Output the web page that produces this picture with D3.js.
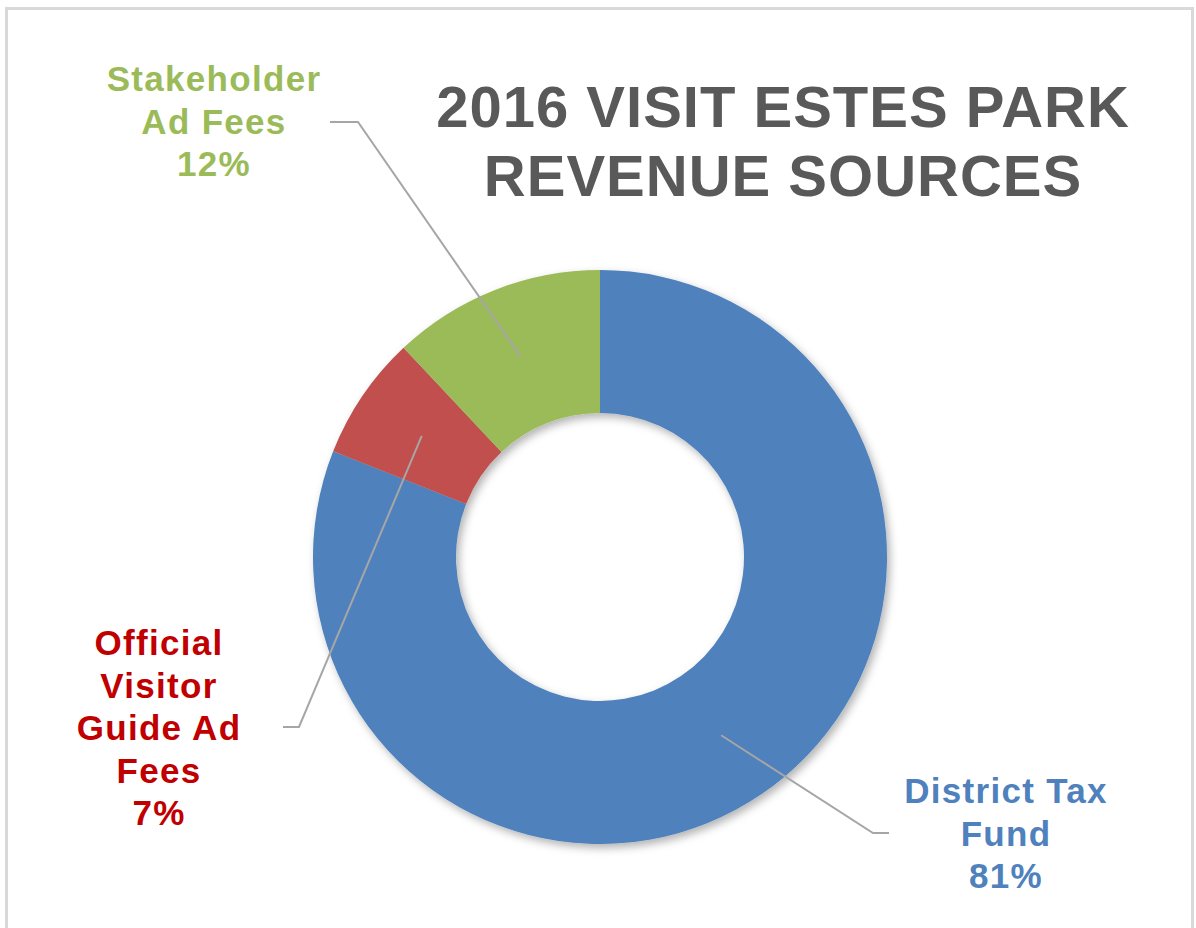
<!DOCTYPE html>
<html>
<head>
<meta charset="utf-8">
<script src="https://cdn.jsdelivr.net/npm/d3@7"></script>
<style>
  html, body { margin: 0; padding: 0; background: #ffffff; }
  svg { display: block; }
  text { font-family: "Liberation Sans", Arial, sans-serif; font-weight: bold; }
</style>
</head>
<body>
<svg id="chart" width="1196" height="928"></svg>
<script>
// ---- data ----
const categories = ["District Tax Fund", "Official Visitor Guide Ad Fees", "Stakeholder Ad Fees"];
const values = [81, 7, 12];
const labelLines = [
  ["District Tax", "Fund", "81%"],
  ["Official", "Visitor", "Guide Ad", "Fees", "7%"],
  ["Stakeholder", "Ad Fees", "12%"]
];
const titleLines = ["2016 VISIT ESTES PARK", "REVENUE SOURCES"];

// ---- styling / layout ----
const sliceColors = ["#4f81bd", "#c0504d", "#9bbb59"];
const labelColors = ["#4f81bd", "#c00000", "#9bbb59"];
const cx = 600, cy = 557, outerR = 287, innerR = 144;
// label anchor (center x, first baseline), leader elbow & end points
const labelLayout = [
  { x: 1005, y: 803, elbow: [873, 833], end: [889, 833] },
  { x: 158, y: 655, elbow: [299, 727], end: [283, 727] },
  { x: 213, y: 91, elbow: [358, 122], end: [330, 122] }
];
const lineH = 42.5;

const svg = d3.select("#chart");

// frame border
svg.append("rect")
  .attr("x", 6.5).attr("y", 8.5)
  .attr("width", 1186).attr("height", 940)
  .attr("fill", "none").attr("stroke", "#d9d9d9").attr("stroke-width", 3);

// shadow filter
const defs = svg.append("defs");
const f = defs.append("filter").attr("id", "shadow")
  .attr("x", "-20%").attr("y", "-20%").attr("width", "140%").attr("height", "140%");
f.append("feDropShadow").attr("dx", 3).attr("dy", 4).attr("stdDeviation", 4)
  .attr("flood-color", "#000").attr("flood-opacity", 0.3);

// title
svg.append("text")
  .attr("text-anchor", "middle")
  .attr("fill", "#595959").attr("font-size", 58)
  .attr("letter-spacing", 1)
  .selectAll("tspan").data(titleLines).join("tspan")
  .attr("x", 783).attr("y", (d, i) => 127 + i * 69)
  .text(d => d);

// donut
const pie = d3.pie().sort(null).value(d => d)
  .startAngle(0).endAngle(2 * Math.PI);
const arcs = pie(values);
const arc = d3.arc().innerRadius(innerR).outerRadius(outerR);

const g = svg.append("g").attr("transform", `translate(${cx},${cy})`);
g.append("g").attr("filter", "url(#shadow)")
  .selectAll("path").data(arcs).join("path")
  .attr("d", arc)
  .attr("fill", (d, i) => sliceColors[i]);

// leader lines
const line = d3.line();
svg.append("g").selectAll("path").data(arcs).join("path")
  .attr("d", (d, i) => {
    const c = arc.centroid(d);
    const L = labelLayout[i];
    return line([[cx + c[0], cy + c[1]], L.elbow, L.end]);
  })
  .attr("fill", "none").attr("stroke", "#a6a6a6").attr("stroke-width", 2);

// labels
svg.append("g").selectAll("text").data(arcs).join("text")
  .attr("text-anchor", "middle")
  .attr("font-size", 35)
  .attr("letter-spacing", 1.3)
  .attr("fill", (d, i) => labelColors[i])
  .each(function (d, i) {
    const L = labelLayout[i];
    d3.select(this).selectAll("tspan").data(labelLines[i]).join("tspan")
      .attr("x", L.x + 1).attr("y", (t, k) => L.y + k * lineH)
      .text(t => t);
  });
</script>
</body>
</html>
